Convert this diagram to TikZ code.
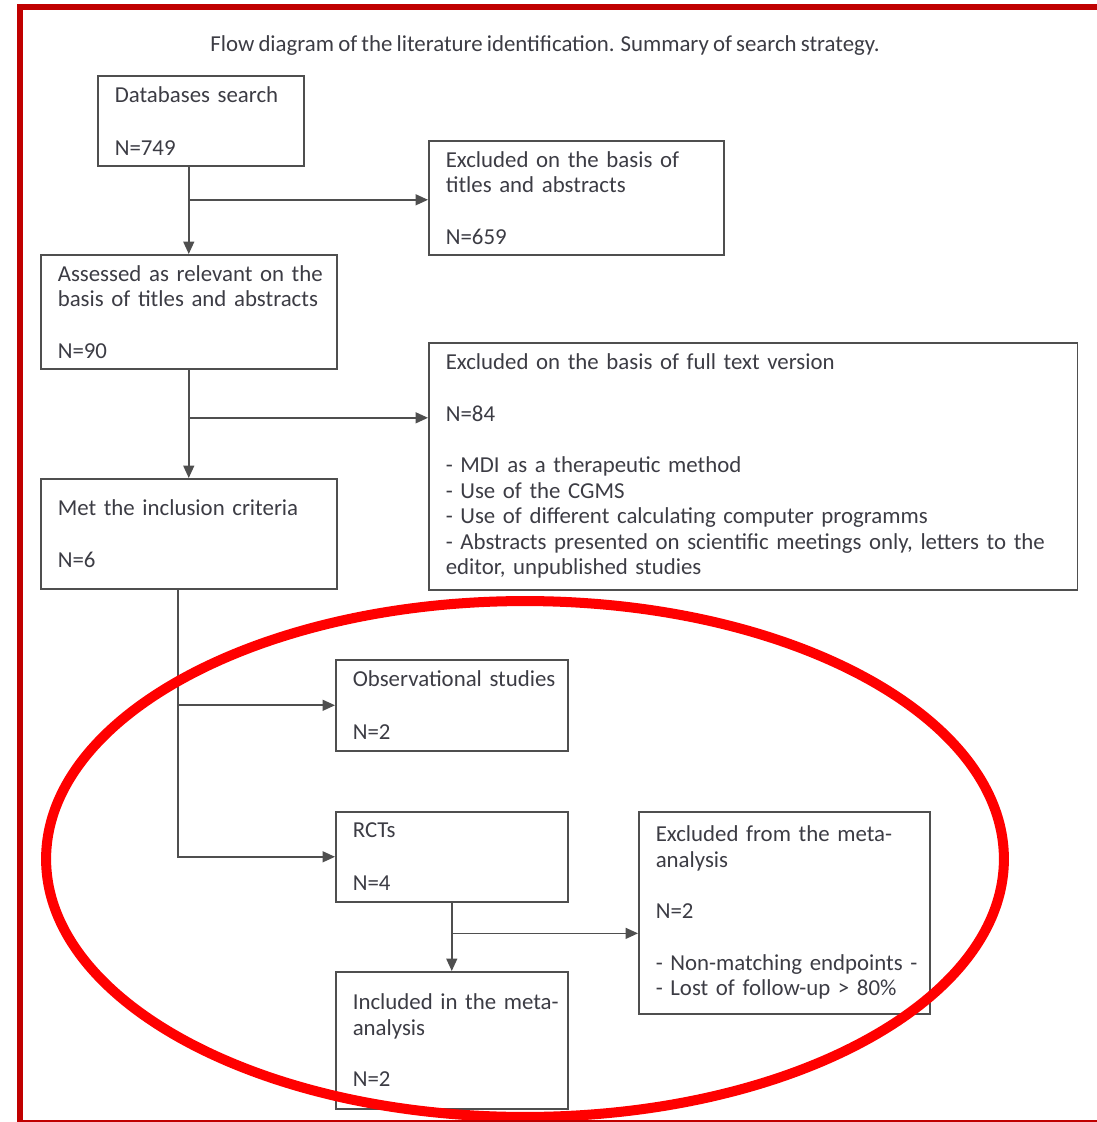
\documentclass[tikz,border=0pt]{standalone}
\usepackage{fontspec}
\setmainfont{Carlito}[WordSpace=0.8]
\usetikzlibrary{arrows.meta,positioning,calc}
\definecolor{framered}{HTML}{C00000}
\definecolor{markred}{HTML}{FF0000}
\definecolor{inkgray}{HTML}{3C3C44}
\definecolor{linegray}{HTML}{4F4F4F}
\tikzset{
  fdbox/.style={draw=linegray, line width=0.9pt, anchor=north west, align=left,
    inner xsep=0.34cm, inner ysep=0pt, text=inkgray, font=\fontsize{13}{14.6}\selectfont},
  fdarrow/.style={-{Triangle[length=2.5mm, width=2.2mm]}, draw=linegray, line width=0.9pt},
  fdtitle/.style={text=inkgray, font=\fontsize{13}{14.6}\selectfont},
  fdframe/.style={draw=framered, line width=3.4pt},
  fdmark/.style={draw=markred, line width=5.7pt},
}

\begin{document}
\begin{tikzpicture}[x=0.02cm, y=-0.02cm]
  \useasboundingbox (0,0) rectangle (1097,1122);
  \clip (0,0) rectangle (1097,1122);

  \node[fdtitle] (title) at (545,46)
    {Flow diagram of the literature identification. Summary of search strategy.};

  % search and screening
  \node[fdbox, text width=3.44cm, minimum height=1.8cm] (db) at (97,75)
    {Databases search\\[15.4pt]N=749};
  \node[fdbox, text width=5.22cm, minimum height=2.28cm] (excl1) at (428,140)
    {Excluded on the basis of\\titles and abstracts\\[14.6pt]N=659};
  \node[fdbox, text width=5.24cm, minimum height=2.28cm] (rel) at (40,254)
    {\mbox{Assessed as relevant on the}\\\mbox{basis of titles and abstracts}\\[14.6pt]N=90};
  \node[fdbox, text width=12.3cm, minimum height=4.94cm] (excl2) at (428,342)
    {Excluded on the basis of full text version\\[14.6pt]N=84\\[14.6pt]
     - MDI as a therapeutic method\\- Use of the CGMS\\
     - Use of different calculating computer programms\\
     \mbox{- Abstracts presented on scientific meetings only, letters to the}\\
     editor, unpublished studies};
  \node[fdbox, text width=5.24cm, minimum height=2.2cm] (met) at (40,478)
    {Met the inclusion criteria\\[15.4pt]N=6};

  % study types
  \node[fdbox, text width=3.96cm, minimum height=1.82cm] (obs) at (335,659)
    {\mbox{Observational studies}\\[15.4pt]N=2};
  \node[fdbox, text width=3.96cm, minimum height=1.8cm] (rct) at (335,811)
    {RCTs\\[15.4pt]N=4};
  \node[fdbox, text width=5.14cm, minimum height=4.04cm] (excl3) at (638,811)
    {\mbox{Excluded from the meta-}\\analysis\\[14.6pt]N=2\\[14.6pt]
     \mbox{- Non-matching endpoints -}\\\mbox{- Lost of follow-up > 80\%}};
  \node[fdbox, text width=3.96cm, minimum height=2.74cm] (incl) at (335,971)
    {\mbox{Included in the meta-}\\analysis\\[14.6pt]N=2};

  % connectors
  \coordinate (j1) at ($(rel.north |- db.south)!0.38!(rel.north)$);
  \draw[fdarrow] (rel.north |- db.south) -- (rel.north);
  \draw[fdarrow] (j1) -- (j1 -| excl1.west);

  \coordinate (j2) at ($(rel.south)!0.445!(met.north)$);
  \draw[fdarrow] (rel.south) -- (met.north);
  \draw[fdarrow] (j2) -- (j2 -| excl2.west);

  \coordinate (j3) at ($(met.south)+(-11,0)$);
  \draw[fdarrow] (j3) |- (rct.west);
  \draw[fdarrow] (j3 |- obs.west) -- (obs.west);

  \coordinate (j4) at ($(rct.south)!0.45!(incl.north)$);
  \draw[fdarrow] (rct.south) -- (incl.north);
  \draw[fdarrow] (j4) -- (j4 -| excl3.west);

  % red marks
  \draw[fdmark] (525,859) ellipse [x radius=9.58cm, y radius=5.16cm];
  \draw[fdframe] (20,7) rectangle (1130,1123);
\end{tikzpicture}
\end{document}
